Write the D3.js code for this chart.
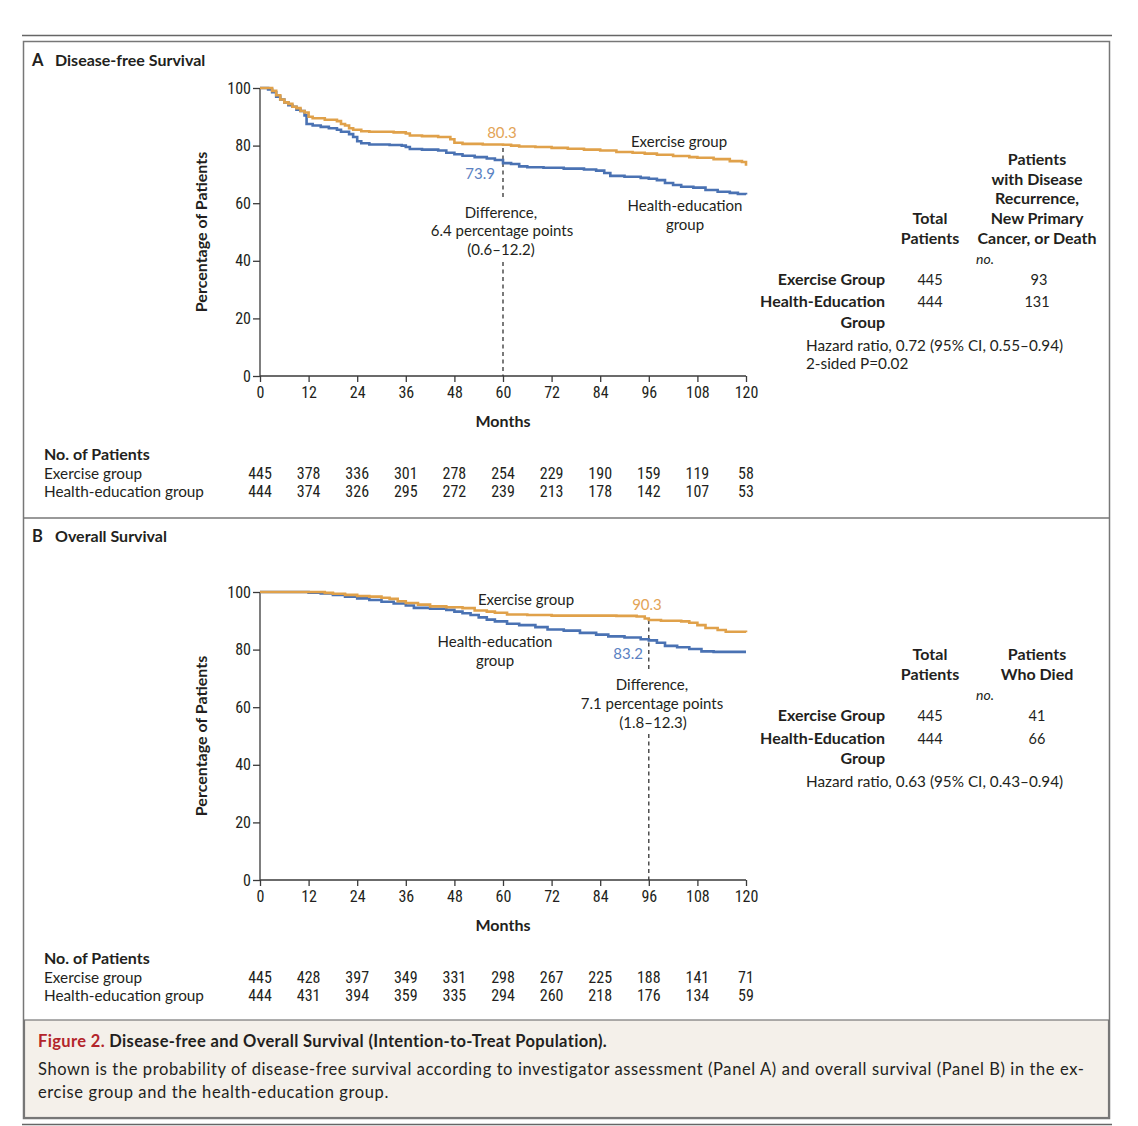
<!DOCTYPE html>
<html>
<head>
<meta charset="utf-8">
<script src="https://cdn.jsdelivr.net/npm/d3@7.9.0/dist/d3.min.js"></script>
<style>
  body { margin: 0; background: #fff; }
  svg text { font-family: Lato, "Open Sans", sans-serif; fill: #231f20; }
  .num { font-family: "Liberation Sans Narrow", "Roboto Condensed", Lato, sans-serif; }
</style>
</head>
<body>
<svg width="1138" height="1126"></svg>
<script>
// x ticks / risk table
const months = [0, 12, 24, 36, 48, 60, 72, 84, 96, 108, 120];
const yTicks = [0, 20, 40, 60, 80, 100];

// Panel A: disease-free survival, [month, percent] steps
const dfsExercise = [
  [0, 100], [2, 100], [3, 99], [4, 97.5], [5, 96], [6, 95], [7, 94.5], [8, 93.5],
  [9, 93], [10, 92], [11, 91.5], [12, 90], [13, 89.5], [16, 89], [19, 88.5],
  [20, 87.5], [21, 87], [22, 86], [23, 85.5], [25, 85], [27, 84.8], [33, 84.6],
  [36, 84.2], [37, 83.5], [40, 83.3], [44, 83], [47, 82.2], [48, 81], [50, 80.6],
  [55, 80.4], [60, 80.3], [62, 80], [64, 79.7], [68, 79.5], [72, 79.2], [76, 78.9],
  [80, 78.6], [84, 78.3], [88, 77.8], [92, 77.5], [95, 77.2], [98, 76.8], [102, 76.4],
  [106, 76], [108, 75.8], [112, 75.3], [116, 74.6], [119, 74.3], [120, 73]
];
const dfsHealth = [
  [0, 100], [2, 99.5], [3, 98.5], [4, 97], [5, 96], [6, 95], [7, 94], [8, 93.5],
  [9, 92.5], [10, 92], [11, 90.5], [11.5, 87.5], [13, 87], [15, 86.5], [17, 86],
  [19, 85.5], [20, 84.8], [22, 84], [23, 83], [24, 81.5], [25, 80.8], [27, 80.4],
  [32, 80.2], [35, 80], [36, 79.5], [37, 78.8], [40, 78.6], [44, 78.3], [46, 77.5],
  [48, 77], [50, 76.5], [53, 76], [56, 75.5], [58, 75], [60, 73.9], [62, 73.6],
  [64, 72.8], [66, 72.5], [70, 72.3], [75, 72], [80, 71.7], [83, 71.3], [85, 70.5],
  [86.5, 69.5], [90, 69.2], [94, 68.8], [96, 68.5], [98, 68], [100, 67], [102, 66.3],
  [104, 65.7], [107, 65.4], [110, 64.6], [113, 64], [116, 63.6], [118, 63.2], [120, 63]
];

// Panel B: overall survival
const osExercise = [
  [0, 100], [14, 100], [16, 99.7], [18, 99.4], [21, 99], [24, 98.6], [27, 98.4],
  [30, 98], [32, 97.6], [34, 96.8], [36, 96.2], [39, 95.6], [42, 95], [46, 94.7],
  [50, 94.4], [53, 93.6], [56, 93.2], [58, 92.8], [61, 92.2], [66, 92], [72, 91.8],
  [88, 91.7], [93, 91.5], [95, 90.8], [96, 90.3], [99, 90], [104, 89.8], [106, 89.3],
  [108, 88.5], [110, 87.5], [113, 86.8], [115, 86.2], [120, 86]
];
const osHealth = [
  [0, 100], [12, 99.8], [15, 99.5], [18, 99], [21, 98.4], [24, 97.8], [27, 97.2],
  [30, 96.6], [33, 96], [36, 95.3], [38, 94.5], [42, 94.2], [46, 93.8], [48, 93.2],
  [50, 92.6], [52, 92], [54, 91.2], [56, 90.4], [58, 89.8], [61, 89], [64, 88.5],
  [68, 87.8], [71, 87], [75, 86.6], [79, 85.8], [83, 85.2], [86, 84.6], [90, 84.2],
  [94, 83.6], [96, 83.2], [98, 82.4], [100, 81.3], [103, 80.8], [106, 80.2],
  [109, 79.4], [112, 79.2], [120, 79.2]
];

// numbers at risk
const riskDfsExercise = [445, 378, 336, 301, 278, 254, 229, 190, 159, 119, 58];
const riskDfsHealth = [444, 374, 326, 295, 272, 239, 213, 178, 142, 107, 53];
const riskOsExercise = [445, 428, 397, 349, 331, 298, 267, 225, 188, 141, 71];
const riskOsHealth = [444, 431, 394, 359, 335, 294, 260, 218, 176, 134, 59];

// right-hand summary tables
const groupNames = ["Exercise Group", "Health-Education"];
const totalPatients = [445, 444];
const dfsEvents = [93, 131];
const osDeaths = [41, 66];

const orange = "#e0a14a",
  blue = "#4a72b3",
  orangeText = "#e3a457",
  blueText = "#5b82c2",
  axisColor = "#3a3a3a";

const svg = d3.select("svg");

// frame
svg.append("line").attr("x1", 22).attr("x2", 1112).attr("y1", 35.5).attr("y2", 35.5)
  .attr("stroke", "#666").attr("stroke-width", 1.5);
svg.append("rect").attr("x", 23.5).attr("y", 41.5).attr("width", 1086).attr("height", 1077)
  .attr("fill", "none").attr("stroke", "#777").attr("stroke-width", 1.5);
svg.append("line").attr("x1", 23.5).attr("x2", 1109.5).attr("y1", 518).attr("y2", 518)
  .attr("stroke", "#777").attr("stroke-width", 1.5);
svg.append("rect").attr("x", 24.5).attr("y", 1020).attr("width", 1084).attr("height", 97.5)
  .attr("fill", "#f4f0ea").attr("stroke", "#777").attr("stroke-width", 1.2);
svg.append("line").attr("x1", 22).attr("x2", 1112).attr("y1", 1124.5).attr("y2", 1124.5)
  .attr("stroke", "#666").attr("stroke-width", 1.5);

function drawPanel(top, cfg) {
  const g = svg.append("g");
  const x = d3.scaleLinear().domain([0, 120]).range([260, 746]);
  const y = d3.scaleLinear().domain([0, 100]).range([top + 288, top]);

  // panel title
  g.append("text").attr("x", 32).attr("y", cfg.titleY).attr("font-size", 16.5)
    .attr("font-weight", 700).text(cfg.letter);
  g.append("text").attr("x", 55).attr("y", cfg.titleY).attr("font-size", 16)
    .attr("font-weight", 700).text(cfg.title);

  // axes
  const yAxis = g.append("g").attr("transform", "translate(260,0)")
    .call(d3.axisLeft(y).tickValues(yTicks).tickSize(7).tickSizeOuter(0).tickPadding(2));
  const xAxis = g.append("g").attr("transform", `translate(0,${y(0)})`)
    .call(d3.axisBottom(x).tickValues(months).tickSize(6).tickSizeOuter(0).tickPadding(5));
  [yAxis, xAxis].forEach((a) => {
    a.selectAll("path, line").attr("stroke", axisColor).attr("stroke-width", 1.3);
    a.selectAll("text").attr("class", "num").attr("font-size", 16).style("fill", "#231f20");
  });
  xAxis.select(".domain").attr("d", `M260,0H746`);
  yAxis.select(".domain").attr("d", `M0,${y(0)}V${y(100)}`);

  g.append("text").attr("transform", `translate(207,${y(50)}) rotate(-90)`)
    .attr("text-anchor", "middle").attr("font-size", 16).attr("font-weight", 700)
    .text("Percentage of Patients");
  g.append("text").attr("x", x(60)).attr("y", y(0) + 51).attr("text-anchor", "middle")
    .attr("font-size", 16).attr("font-weight", 700).text("Months");

  // dashed reference line, broken around the difference text
  cfg.dash.forEach(([y0, y1]) => {
    g.append("line").attr("x1", x(cfg.at)).attr("x2", x(cfg.at))
      .attr("y1", y0).attr("y2", y1)
      .attr("stroke", "#333").attr("stroke-width", 1.3).attr("stroke-dasharray", "4,3.5");
  });

  // curves
  const line = d3.line().x((d) => x(d[0])).y((d) => y(d[1])).curve(d3.curveStepAfter);
  [[cfg.health, blue], [cfg.exercise, orange]].forEach(([data, color]) => {
    g.append("path").datum(data).attr("d", line).attr("fill", "none")
      .attr("stroke", color).attr("stroke-width", 2.6);
  });

  // annotations
  cfg.labels.forEach((l) => {
    g.append("text").attr("x", l.x).attr("y", l.y).attr("text-anchor", l.anchor || "middle")
      .attr("font-size", 15).style("fill", l.color || "#231f20").text(l.text);
  });

  // number at risk
  g.append("text").attr("x", 44).attr("y", y(0) + 84).attr("font-size", 16)
    .attr("font-weight", 700).text("No. of Patients");
  [["Exercise group", cfg.riskEx, 103], ["Health-education group", cfg.riskHe, 121]]
    .forEach(([name, values, dy]) => {
      g.append("text").attr("x", 44).attr("y", y(0) + dy).attr("font-size", 15.3).text(name);
      g.selectAll(null).data(values).join("text").attr("class", "num")
        .attr("x", (d, i) => x(months[i])).attr("y", y(0) + dy)
        .attr("text-anchor", "middle").attr("font-size", 16).text((d) => d);
    });

  // summary table
  cfg.table.forEach((t) => {
    g.append("text").attr("x", t.x).attr("y", t.y).attr("text-anchor", t.anchor || "middle")
      .attr("font-size", t.size || 16).attr("font-weight", t.weight || 400)
      .attr("font-style", t.italic ? "italic" : null).text(t.text);
  });
}

drawPanel(88, {
  letter: "A",
  title: "Disease-free Survival",
  titleY: 66,
  exercise: dfsExercise,
  health: dfsHealth,
  riskEx: riskDfsExercise,
  riskHe: riskDfsHealth,
  at: 60,
  dash: [[148, 198], [262, 376]],
  labels: [
    { x: 502, y: 138, text: "80.3", color: orangeText },
    { x: 495, y: 179, text: "73.9", color: blueText, anchor: "end" },
    { x: 501, y: 218, text: "Difference," },
    { x: 502, y: 236, text: "6.4 percentage points" },
    { x: 501, y: 255, text: "(0.6\u201312.2)" },
    { x: 679, y: 147, text: "Exercise group" },
    { x: 685, y: 211, text: "Health-education" },
    { x: 685, y: 230, text: "group" }
  ],
  table: [
    { x: 1037, y: 165, text: "Patients", weight: 700 },
    { x: 1037, y: 185, text: "with Disease", weight: 700 },
    { x: 1037, y: 204, text: "Recurrence,", weight: 700 },
    { x: 1037, y: 224, text: "New Primary", weight: 700 },
    { x: 1037, y: 244, text: "Cancer, or Death", weight: 700 },
    { x: 930, y: 224, text: "Total", weight: 700 },
    { x: 930, y: 244, text: "Patients", weight: 700 },
    { x: 985, y: 264, text: "no.", italic: true, size: 14 },
    { x: 885, y: 285, text: groupNames[0], anchor: "end", weight: 700 },
    { x: 885, y: 307, text: groupNames[1], anchor: "end", weight: 700 },
    { x: 885, y: 328, text: "Group", anchor: "end", weight: 700 },
    { x: 930, y: 285, text: totalPatients[0], size: 14.5 },
    { x: 930, y: 307, text: totalPatients[1], size: 14.5 },
    { x: 1039, y: 285, text: dfsEvents[0], size: 14.5 },
    { x: 1037, y: 307, text: dfsEvents[1], size: 14.5 },
    { x: 806, y: 351, text: "Hazard ratio, 0.72 (95% CI, 0.55\u20130.94)", anchor: "start", size: 15.3 },
    { x: 806, y: 369, text: "2-sided P=0.02", anchor: "start", size: 15.3 }
  ]
});

drawPanel(592, {
  letter: "B",
  title: "Overall Survival",
  titleY: 542,
  exercise: osExercise,
  health: osHealth,
  riskEx: riskOsExercise,
  riskHe: riskOsHealth,
  at: 96,
  dash: [[620, 672], [734, 880]],
  labels: [
    { x: 647, y: 610, text: "90.3", color: orangeText },
    { x: 643, y: 659, text: "83.2", color: blueText, anchor: "end" },
    { x: 652, y: 690, text: "Difference," },
    { x: 652, y: 709, text: "7.1 percentage points" },
    { x: 653, y: 728, text: "(1.8\u201312.3)" },
    { x: 526, y: 605, text: "Exercise group" },
    { x: 495, y: 647, text: "Health-education" },
    { x: 495, y: 666, text: "group" }
  ],
  table: [
    { x: 930, y: 660, text: "Total", weight: 700 },
    { x: 930, y: 680, text: "Patients", weight: 700 },
    { x: 1037, y: 660, text: "Patients", weight: 700 },
    { x: 1037, y: 680, text: "Who Died", weight: 700 },
    { x: 985, y: 700, text: "no.", italic: true, size: 14 },
    { x: 885, y: 721, text: groupNames[0], anchor: "end", weight: 700 },
    { x: 885, y: 744, text: groupNames[1], anchor: "end", weight: 700 },
    { x: 885, y: 764, text: "Group", anchor: "end", weight: 700 },
    { x: 930, y: 721, text: totalPatients[0], size: 14.5 },
    { x: 930, y: 744, text: totalPatients[1], size: 14.5 },
    { x: 1037, y: 721, text: osDeaths[0], size: 14.5 },
    { x: 1037, y: 744, text: osDeaths[1], size: 14.5 },
    { x: 806, y: 787, text: "Hazard ratio, 0.63 (95% CI, 0.43\u20130.94)", anchor: "start", size: 15.3 }
  ]
});

// caption
const cap = svg.append("text").attr("x", 38).attr("y", 1047).attr("font-size", 16.5)
  .attr("font-weight", 700).attr("letter-spacing", 0.35);
cap.append("tspan").style("fill", "#b3252b").text("Figure 2. ");
cap.append("tspan").text("Disease-free and Overall Survival (Intention-to-Treat Population).");
svg.append("text").attr("x", 38).attr("y", 1075).attr("font-size", 16.5)
  .attr("letter-spacing", 0.6)
  .text("Shown is the probability of disease-free survival according to investigator assessment (Panel A) and overall survival (Panel B) in the ex-");
svg.append("text").attr("x", 38).attr("y", 1098).attr("font-size", 16.5)
  .attr("letter-spacing", 0.6)
  .text("ercise group and the health-education group.");
</script>
</body>
</html>
